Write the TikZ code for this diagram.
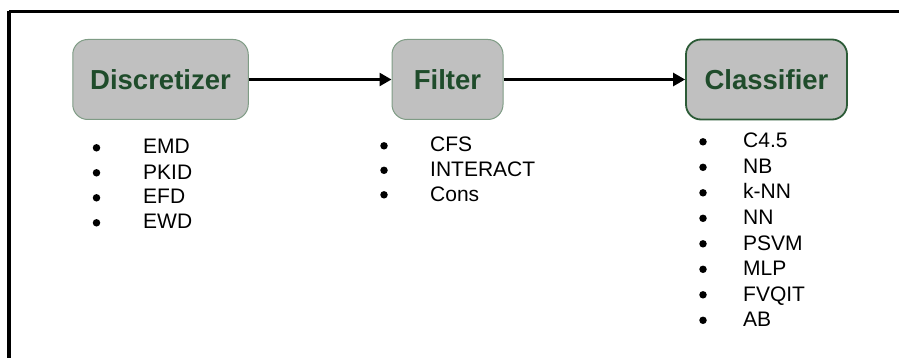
\documentclass[tikz,border=0pt]{standalone}
\usepackage{fontspec}
\setmainfont{Liberation Sans}
\usetikzlibrary{arrows.meta}
\definecolor{boxfill}{HTML}{C0C0C0}
\definecolor{boxedge}{HTML}{7F9C85}
\definecolor{darkedge}{HTML}{2C5B37}
\definecolor{titlegreen}{HTML}{1F4C2B}
\tikzset{
  stage/.style={rounded corners=15pt, fill=boxfill, draw=boxedge, line width=1pt,
    minimum height=80pt, inner sep=0pt, font=\fontsize{27.5}{30}\selectfont\bfseries, text=titlegreen},
  bul/.style={circle, fill=black, inner sep=0pt, minimum size=7.5pt},
  itemtxt/.style={anchor=base west, inner sep=0pt, font=\fontsize{21}{24}\selectfont},
  flow/.style={line width=2.6pt, -{Triangle[length=12pt,width=13pt]}}
}
\begin{document}
\begin{tikzpicture}[x=1pt,y=-1pt]
\useasboundingbox (0,0) rectangle (899,358);
\fill[white] (0,0) rectangle (899,358);
\draw[line width=3.5pt] (9,11.5) -- (905,11.5);
\draw[line width=3.5pt] (9,11.5) -- (9,365);
\node[stage, minimum width=175.5pt] (disc) at (160.5,79.5) {Discretizer};
\node[stage, minimum width=111pt] (filt) at (447.5,79.5) {Filter};
\node[stage, minimum width=161pt, draw=darkedge, line width=1.8pt] (clas) at (766.5,79.5) {Classifier};
\draw[flow] (disc.east) -- (filt.west);
\draw[flow] (filt.east) -- (clas.west);
\foreach \t [count=\i] in {EMD,PKID,EFD,EWD}{
  \node[bul] (db\i) at (96.5,{154+25*(\i-1)-6.2}) {};
  \node[itemtxt] (dt\i) at (143,{154+25*(\i-1)}) {\t};
}
\foreach \t [count=\i] in {CFS,INTERACT,Cons}{
  \node[bul] (fb\i) at (384,{152+24.5*(\i-1)-6.2}) {};
  \node[itemtxt] (ft\i) at (430,{152+24.5*(\i-1)}) {\t};
}
\foreach \t [count=\i] in {C4.5,NB,k-NN,NN,PSVM,MLP,FVQIT,AB}{
  \node[bul] (cb\i) at (703,{148+25.5*(\i-1)-6.2}) {};
  \node[itemtxt] (ct\i) at (743,{148+25.5*(\i-1)}) {\t};
}
\end{tikzpicture}
\end{document}
